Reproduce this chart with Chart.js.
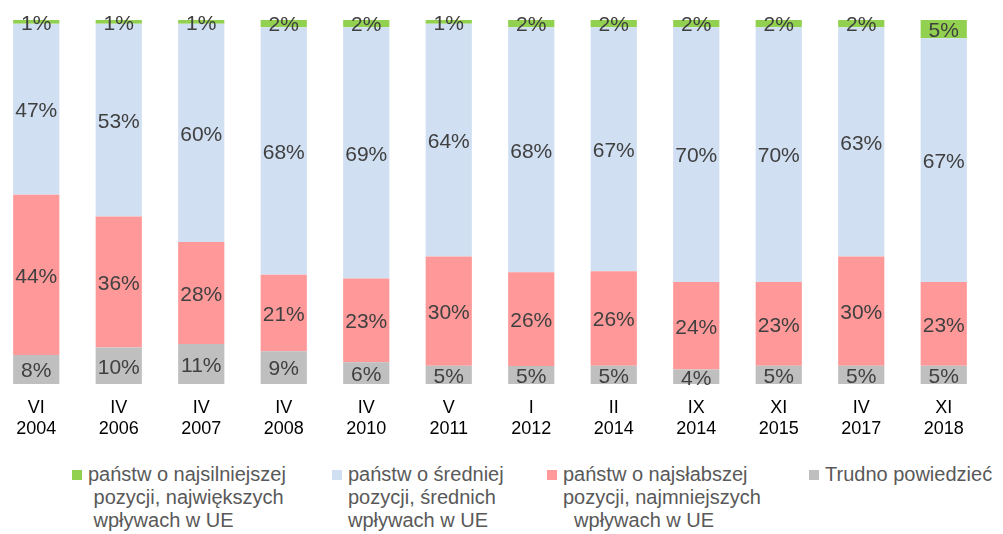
<!DOCTYPE html>
<html>
<head>
<meta charset="utf-8">
<script src="https://cdn.jsdelivr.net/npm/chart.js@4/dist/chart.umd.min.js"></script>
<style>
  body { margin: 0; background: #fff; }
  #wrap { position: relative; width: 1003px; height: 534px; overflow: hidden; font-family: "Liberation Sans", Arial, sans-serif; }
  #chartBox { position: absolute; left: -5px; top: 0; width: 990px; height: 444px; }
  .item { position: absolute; top: 463px; color: #595959; font-size: 20px; line-height: 23px; white-space: pre; }
  .item .box { position: absolute; left: -16px; top: 7px; width: 10px; height: 10px; }
</style>
</head>
<body>
<div id="wrap">
  <div id="chartBox"><canvas id="myChart"></canvas></div>
  <div id="legend"></div>
</div>
<script>
// categories (two-line labels)
const periods = [
  ['VI', '2004'], ['IV', '2006'], ['IV', '2007'], ['IV', '2008'],
  ['IV', '2010'], ['V', '2011'], ['I', '2012'], ['II', '2014'],
  ['IX', '2014'], ['XI', '2015'], ['IV', '2017'], ['XI', '2018']
];

// series values (%)
const strongest = [1, 1, 1, 2, 2, 1, 2, 2, 2, 2, 2, 5];
const middle    = [47, 53, 60, 68, 69, 64, 68, 67, 70, 70, 63, 67];
const weakest   = [44, 36, 28, 21, 23, 30, 26, 26, 24, 23, 30, 23];
const hardToSay = [8, 10, 11, 9, 6, 5, 5, 5, 4, 5, 5, 5];

// legend texts
const labelStrongest = ['państw o najsilniejszej', ' pozycji, największych', ' wpływach w UE'];
const labelMiddle    = ['państw o średniej', 'pozycji, średnich', 'wpływach w UE'];
const labelWeakest   = ['państw o najsłabszej', 'pozycji, najmniejszych', '  wpływach w UE'];
const labelHard      = ['Trudno powiedzieć'];

const colors = {
  strongest: '#92D050',
  middle: '#D0DFF2',
  weakest: '#FF9999',
  hard: '#BFBFBF'
};

// 100% stacked: each column scaled to its own total (2012 adds up to 101)
const totals = strongest.map((v, i) => v + middle[i] + weakest[i] + hardToSay[i]);
const share = arr => arr.map((v, i) => v / totals[i] * 100);

// draw the original values in the middle of each segment
const barLabels = {
  id: 'barLabels',
  afterDatasetsDraw(chart) {
    const ctx = chart.ctx;
    ctx.save();
    ctx.font = '21px "Liberation Sans", Arial, sans-serif';
    ctx.fillStyle = '#404040';
    ctx.textAlign = 'center';
    ctx.textBaseline = 'middle';
    chart.data.datasets.forEach((ds, i) => {
      const meta = chart.getDatasetMeta(i);
      meta.data.forEach((bar, j) => {
        const p = bar.getCenterPoint();
        ctx.fillText(ds.raw[j] + '%', p.x, p.y + 2);
      });
    });
    ctx.restore();
  }
};

const ctx = document.getElementById('myChart').getContext('2d');

new Chart(ctx, {
  type: 'bar',
  data: {
    labels: periods,
    datasets: [
      { label: labelHard.join(' '), raw: hardToSay, data: share(hardToSay), backgroundColor: colors.hard },
      { label: labelWeakest.join(' '), raw: weakest, data: share(weakest), backgroundColor: colors.weakest },
      { label: labelMiddle.join(' '), raw: middle, data: share(middle), backgroundColor: colors.middle },
      { label: labelStrongest.join(' '), raw: strongest, data: share(strongest), backgroundColor: colors.strongest }
    ]
  },
  options: {
    responsive: true,
    maintainAspectRatio: false,
    animation: false,
    layout: { padding: { top: 20, left: 0, right: 0, bottom: 0 } },
    datasets: {
      bar: { barPercentage: 0.56, categoryPercentage: 1, borderWidth: 0 }
    },
    plugins: {
      legend: { display: false },
      tooltip: { enabled: false }
    },
    scales: {
      x: {
        stacked: true,
        grid: { display: false, drawTicks: false },
        border: { display: false },
        ticks: {
          color: '#000',
          padding: 14,
          maxRotation: 0,
          font: { family: '"Liberation Sans", Arial, sans-serif', size: 18, lineHeight: 1.15 }
        },
        afterFit: s => { s.height = 60; }
      },
      y: {
        stacked: true,
        display: false,
        min: 0,
        max: 100
      }
    }
  },
  plugins: [barLabels]
});

// custom legend (multi-line labels)
const legendItems = [
  { lines: labelStrongest, color: colors.strongest, left: 88 },
  { lines: labelMiddle, color: colors.middle, left: 348 },
  { lines: labelWeakest, color: colors.weakest, left: 563 },
  { lines: labelHard, color: colors.hard, left: 825 }
];
const legend = document.getElementById('legend');
legendItems.forEach(it => {
  const d = document.createElement('div');
  d.className = 'item';
  d.style.left = it.left + 'px';
  const box = document.createElement('span');
  box.className = 'box';
  box.style.background = it.color;
  d.appendChild(box);
  d.appendChild(document.createTextNode(it.lines.join('\n')));
  legend.appendChild(d);
});
</script>
</body>
</html>
